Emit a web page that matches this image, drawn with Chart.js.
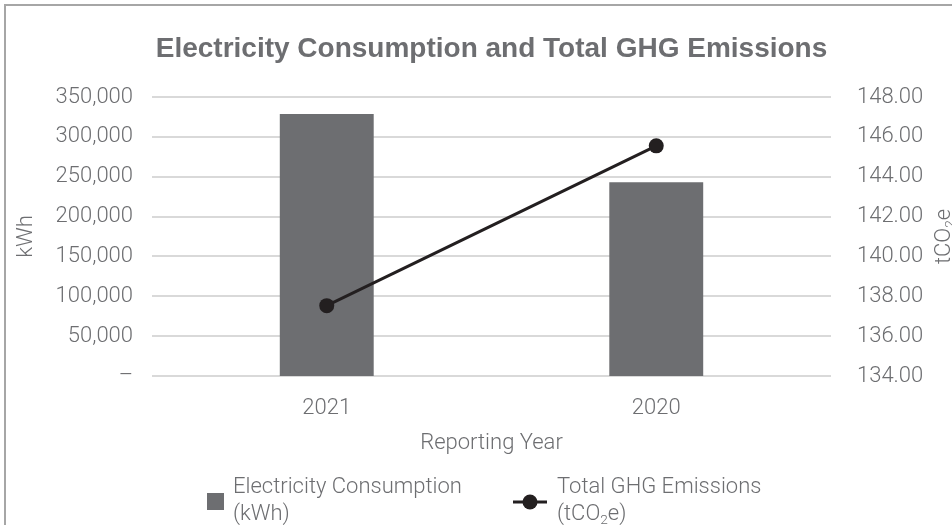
<!DOCTYPE html>
<html>
<head>
<meta charset="utf-8">
<title>Electricity Consumption and Total GHG Emissions</title>
<script src="https://cdn.jsdelivr.net/npm/chart.js@4.4.1/dist/chart.umd.min.js"></script>
<style>
    html, body { margin: 0; padding: 0; background: #fff; overflow: hidden; }
    #wrap { position: relative; width: 952px; height: 525px; }
</style>
</head>
<body>
<div id="wrap"><canvas id="ghgChart" width="952" height="525"></canvas></div>
<script>
// data
const years = ['2021', '2020'];
const electricityKwh = [328600, 243200];
const ghgEmissions = [137.53, 145.55];
const kwhTicks = [0, 50000, 100000, 150000, 200000, 250000, 300000, 350000];
const co2Ticks = [134, 136, 138, 140, 142, 144, 146, 148];

const CHART_TITLE = 'Electricity Consumption and Total GHG Emissions';
const BAR_COLOR = '#6d6e71';
const LINE_COLOR = '#231f20';
const TEXT_COLOR = '#6d6e71';
const GRID_COLOR = '#d9d9d9';
const FONT = "'Roboto', 'Liberation Sans', sans-serif";

Chart.defaults.font.family = FONT;
Chart.defaults.font.weight = 300;
Chart.defaults.font.size = 22;
Chart.defaults.color = TEXT_COLOR;

function withCommas(v) {
    return String(v).replace(/\B(?=(\d{3})+(?!\d))/g, ',');
}

// draws text pieces, "sub" pieces get the small lowered look of CO2
function drawRich(ctx, parts, x, y, size) {
    let cx = x;
    parts.forEach(p => {
        const s = p.sub ? size * 0.62 : size;
        ctx.font = `300 ${s}px ${FONT}`;
        ctx.fillText(p.t, cx, p.sub ? y + size * 0.28 : y);
        cx += ctx.measureText(p.t).width;
    });
}

function richWidth(ctx, parts, size) {
    let w = 0;
    parts.forEach(p => {
        ctx.font = `300 ${p.sub ? size * 0.62 : size}px ${FONT}`;
        w += ctx.measureText(p.t).width;
    });
    return w;
}

const co2Unit = [{ t: 'tCO' }, { t: '2', sub: true }, { t: 'e' }];

const extrasPlugin = {
    id: 'extras',
    beforeDraw(chart) {
        const ctx = chart.ctx;
        ctx.save();
        ctx.strokeStyle = '#a6a6a6';
        ctx.lineWidth = 2;
        ctx.strokeRect(5, 5, 1400, 1400);
        ctx.restore();
    },
    beforeDatasetsDraw(chart) {
        // horizontal gridlines, a bit wider than the plot like the original
        const { ctx, chartArea, scales } = chart;
        ctx.save();
        ctx.strokeStyle = GRID_COLOR;
        ctx.lineWidth = 2;
        scales.y.ticks.forEach(t => {
            const py = Math.round(scales.y.getPixelForValue(t.value));
            ctx.beginPath();
            ctx.moveTo(chartArea.left - 10, py);
            ctx.lineTo(chartArea.right + 10, py);
            ctx.stroke();
        });
        ctx.restore();
    },
    afterDraw(chart) {
        const { ctx, chartArea } = chart;
        const size = 22;
        ctx.save();
        ctx.fillStyle = TEXT_COLOR;
        ctx.textBaseline = 'middle';

        // title, centred over the plot
        ctx.textAlign = 'center';
        ctx.font = "bold 28px 'Liberation Sans', sans-serif";
        ctx.fillText(CHART_TITLE, (chartArea.left + chartArea.right) / 2, 49);
        ctx.textAlign = 'left';

        // right axis title, reading upwards
        const w = richWidth(ctx, co2Unit, size);
        ctx.save();
        ctx.translate(944, (chartArea.top + chartArea.bottom) / 2);
        ctx.rotate(-Math.PI / 2);
        drawRich(ctx, co2Unit, -w / 2, 0, size);
        ctx.restore();

        // legend
        const bar = chart.data.datasets[1];
        const line = chart.data.datasets[0];
        ctx.fillStyle = bar.backgroundColor;
        ctx.fillRect(207, 493, 17, 17);
        ctx.fillStyle = TEXT_COLOR;
        drawRich(ctx, [{ t: 'Electricity Consumption' }], 233, 487, size);
        drawRich(ctx, [{ t: '(kWh)' }], 233, 514, size);

        ctx.strokeStyle = line.borderColor;
        ctx.lineWidth = 3;
        ctx.beginPath();
        ctx.moveTo(513, 502);
        ctx.lineTo(547, 502);
        ctx.stroke();
        ctx.fillStyle = line.pointBackgroundColor;
        ctx.beginPath();
        ctx.arc(530, 502, 7.5, 0, Math.PI * 2);
        ctx.fill();
        ctx.fillStyle = TEXT_COLOR;
        drawRich(ctx, [{ t: 'Total GHG Emissions' }], 557, 487, size);
        drawRich(ctx, [{ t: '(' }].concat(co2Unit, [{ t: ')' }]), 557, 514, size);
        ctx.restore();
    }
};

const ctx = document.getElementById('ghgChart').getContext('2d');
new Chart(ctx, {
    data: {
        labels: years,
        datasets: [
            {
                type: 'line',
                label: 'Total GHG Emissions (tCO2e)',
                data: ghgEmissions,
                yAxisID: 'y1',
                borderColor: LINE_COLOR,
                borderWidth: 3,
                pointRadius: 7.5,
                pointBackgroundColor: LINE_COLOR,
                pointBorderWidth: 0,
                order: 0
            },
            {
                type: 'bar',
                label: 'Electricity Consumption (kWh)',
                data: electricityKwh,
                yAxisID: 'y',
                backgroundColor: BAR_COLOR,
                barPercentage: 0.285,
                categoryPercentage: 1,
                order: 1
            }
        ]
    },
    options: {
        responsive: false,
        animation: false,
        layout: { padding: { top: 97, left: 0, right: 0, bottom: 0 } },
        plugins: {
            legend: { display: false },
            tooltip: { enabled: false },
            title: { display: false }
        },
        scales: {
            x: {
                offset: true,
                grid: { display: false, drawTicks: false },
                border: { display: false },
                ticks: { padding: 19 },
                title: { display: true, text: 'Reporting Year', padding: { top: 0, bottom: 68 } },
                afterFit: s => { s.height = 149; }
            },
            y: {
                position: 'left',
                min: kwhTicks[0],
                max: kwhTicks[kwhTicks.length - 1],
                grid: { display: false, drawTicks: false },
                border: { display: false },
                afterBuildTicks: s => { s.ticks = kwhTicks.map(v => ({ value: v })); },
                ticks: { padding: 29, callback: v => (v === 0 ? '–' : withCommas(v)) },
                title: { display: true, text: 'kWh', padding: { top: 13, bottom: 0 } },
                afterFit: s => { s.width = 162; }
            },
            y1: {
                position: 'right',
                min: co2Ticks[0],
                max: co2Ticks[co2Ticks.length - 1],
                grid: { display: false, drawTicks: false },
                border: { display: false },
                afterBuildTicks: s => { s.ticks = co2Ticks.map(v => ({ value: v })); },
                ticks: { padding: 36, callback: v => v.toFixed(2) },
                afterFit: s => { s.width = 131; }
            }
        }
    },
    plugins: [extrasPlugin]
});
</script>
</body>
</html>
